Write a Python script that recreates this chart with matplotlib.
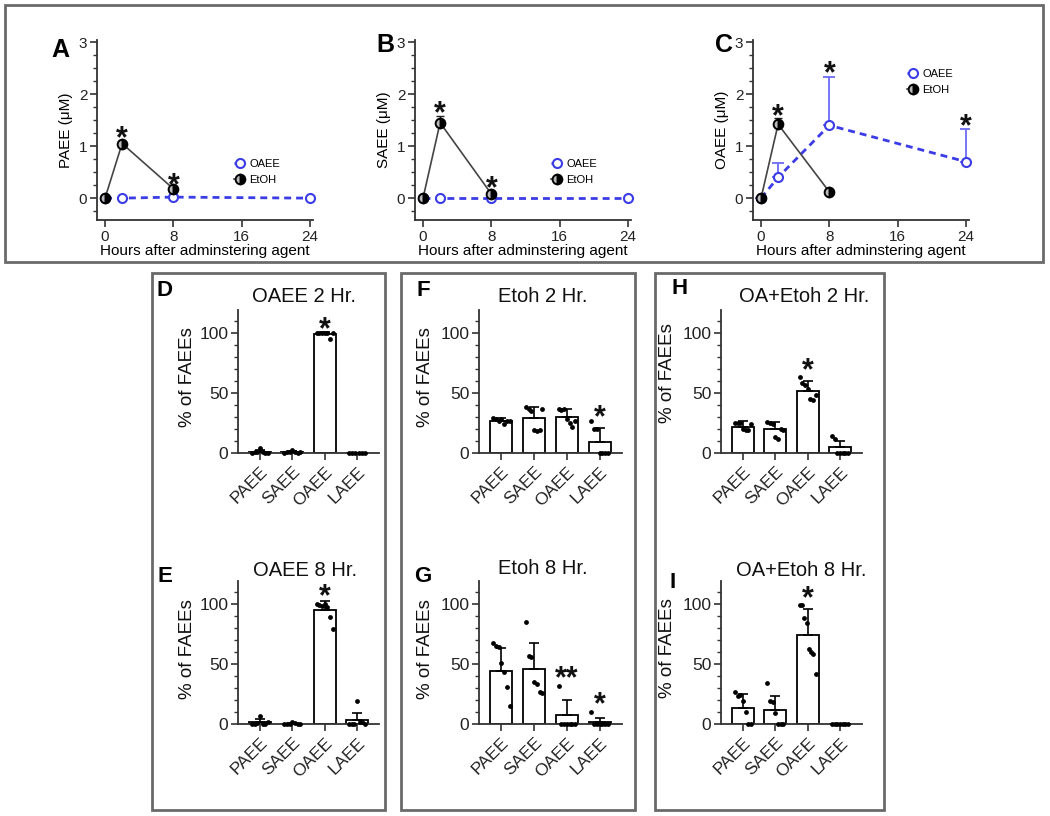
import numpy as np
import matplotlib
matplotlib.use("Agg")
import matplotlib.pyplot as plt
from matplotlib.patches import Rectangle
from matplotlib.ticker import MultipleLocator
from matplotlib.transforms import offset_copy

plt.rcParams['font.family'] = ['Liberation Sans', 'DejaVu Sans']

# ============================================================================
# Data
# ============================================================================

# time course panels A-C
oaee_hours = [0, 2, 8, 24]
etoh_hours = [0, 2, 8]

paee_oaee = [0, 0, 0.02, 0]
paee_etoh = [0, 1.05, 0.18]
paee_etoh_sd = [0, 0.05, 0.03]
paee_stars = [(2, 1.27), (8, 0.36)]

saee_oaee = [0, 0, 0, 0]
saee_etoh = [0, 1.45, 0.08]
saee_etoh_sd = [0, 0.13, 0.03]
saee_stars = [(2, 1.74), (8, 0.30)]

oaee_oaee = [0, 0.40, 1.40, 0.70]
oaee_oaee_sd = [0, 0.28, 0.92, 0.62]
oaee_etoh = [0, 1.42, 0.12]
oaee_etoh_sd = [0, 0.12, 0.06]
oaee_stars = [(2, 1.68), (8, 2.52), (24, 1.49)]

# % of FAEEs panels D-I
categories = ['PAEE', 'SAEE', 'OAEE', 'LAEE']

d_means = [1.0, 0.8, 99.3, 0.0]
d_sd = [1.5, 1.0, 1.3, 0.0]
d_points = [[0, 0.5, 1, 4, 0.5, 0, 0], [0, 0.5, 1, 2.5, 0.5, 0, 1],
            [100, 100, 100, 99.5, 100, 95, 99.8], [0, 0, 0, 0, 0, 0]]
d_stars = [(2, 108, '*')]

e_means = [1.5, 0.4, 94.5, 3.4]
e_sd = [2.8, 0.8, 7.7, 6.0]
e_points = [[0, 0, 1, 6.5, 0, 0, 2], [0, 0, 0, 2, 0.5, 0, 0],
            [100, 99, 98, 100, 97, 89, 79], [0, 0, 0, 19, 2, 2, 0]]
e_stars = [(2, 111, '*')]

f_means = [26.5, 29.0, 30.3, 9.0]
f_sd = [2.5, 9.5, 6.5, 12.0]
f_points = [[29, 28, 27, 28, 24, 27, 27], [38, 37, 35, 19, 18, 19, 37],
            [37, 36, 37, 28, 25, 22, 27], [27, 20, 20, 0, 0, 0, 0]]
f_stars = [(3, 35, '*')]

g_means = [44.0, 45.5, 7.5, 1.4]
g_sd = [19.0, 21.5, 12.5, 3.6]
g_points = [[67, 65, 64, 51, 43, 31, 15], [85, 57, 56, 35, 33, 27, 26],
            [32, 0, 0, 0, 0, 0, 0], [10, 0, 0, 0, 0, 0, 0]]
g_stars = [(2, 43, '**'), (3, 21.5, '*')]

h_means = [22.0, 20.0, 52.0, 4.7]
h_sd = [5.0, 6.0, 8.0, 5.0]
h_points = [[25, 25, 25, 20, 19, 19, 24], [26, 25, 24, 13, 12, 20, 19],
            [63, 58, 57, 53, 45, 44, 48], [14, 12, 0, 0, 0, 0, 0]]
h_stars = [(2, 74, '*')]

i_means = [13.7, 11.7, 73.7, 0.0]
i_sd = [11.0, 12.0, 22.0, 0.0]
i_points = [[27, 23, 24, 19, 10, 0, 0], [34, 19, 18, 9, 0, 0, 0],
            [99, 99, 88, 84, 62, 60, 58, 42], [0, 0, 0, 0, 0, 0, 0]]
i_stars = [(2, 110, '*')]

# ============================================================================
# Layout helpers (pixel coordinates, origin top-left)
# ============================================================================

W, H = 1050, 816
fig = plt.figure(figsize=(W / 100, H / 100), dpi=100)

BLUE = '#3c3ce6'
BLUE_ERR = '#6b6bf5'
AX_COLOR = '#333333'
STAR_FS = 22


def px_axes(left, top, right, bottom):
    return fig.add_axes([left / W, 1 - bottom / H, (right - left) / W, (bottom - top) / H])


def fig_text(x, y, s, **kw):
    fig.text(x / W, 1 - y / H, s, ha='center', va='center', **kw)


def box(left, top, right, bottom):
    fig.patches.append(Rectangle((left / W, 1 - bottom / H), (right - left) / W, (bottom - top) / H,
                                 transform=fig.transFigure, fill=False,
                                 edgecolor='#6a6a6a', linewidth=2.0))


def star(ax, x, y, s):
    # anchor the baseline so the glyph itself is centred on (x, y)
    tr = offset_copy(ax.transData, fig=fig, y=-0.49 * STAR_FS, units='points')
    ax.text(x, y, s, transform=tr, ha='center', va='baseline', fontsize=STAR_FS,
            fontweight='bold', color='#111111', clip_on=False, zorder=6)


def style_axes(ax, fs):
    for side in ['top', 'right']:
        ax.spines[side].set_visible(False)
    for side in ['left', 'bottom']:
        ax.spines[side].set_linewidth(1.3)
        ax.spines[side].set_color(AX_COLOR)
    ax.tick_params(which='major', length=5, width=1.2, color=AX_COLOR,
                   labelsize=fs, labelcolor='#222222', pad=2)
    ax.tick_params(which='minor', length=3, width=1.0, color=AX_COLOR)
    ax.set_facecolor('none')


# ============================================================================
# Time course panels
# ============================================================================

def time_panel(ax, oaee, etoh, etoh_sd, stars, ylabel, oaee_sd=None, legend_at=None):
    ax.plot(oaee_hours, oaee, color=BLUE, lw=2.0, ls=(0, (2.5, 1.8)), marker='o', ms=6.5,
            mfc='white', mec=BLUE, mew=1.5, zorder=3, clip_on=False, label='OAEE')
    if oaee_sd is not None:
        ax.errorbar(oaee_hours, oaee, yerr=[np.zeros(len(oaee)), oaee_sd], fmt='none',
                    ecolor=BLUE_ERR, elinewidth=1.3, capsize=4, capthick=1.3, zorder=2)
    ax.errorbar(etoh_hours, etoh, yerr=[np.zeros(len(etoh)), etoh_sd], fmt='none',
                ecolor='#222222', elinewidth=1.0, capsize=3, capthick=1.0, zorder=3)
    ax.plot(etoh_hours, etoh, color='#444444', lw=1.2, marker='o', ms=7, fillstyle='right',
            mfc='black', mfcalt='#bbbbbb', mec='black', mew=1.4, zorder=4, clip_on=False,
            label='EtOH')
    for x, y in stars:
        star(ax, x, y, '*')

    ax.set_xlim(-0.94, 24.35)
    ax.set_ylim(-0.42, 3.04)
    ax.set_xticks([0, 8, 16, 24])
    ax.set_yticks([0, 1, 2, 3])
    ax.yaxis.set_minor_locator(MultipleLocator(0.25))
    style_axes(ax, 11)
    ax.set_ylabel(ylabel, fontsize=11, labelpad=4)
    ax.set_xlabel('Hours after adminstering agent', fontsize=11, labelpad=0)

    lx, ly = legend_at
    ax.legend(loc='upper left', bbox_to_anchor=(lx / W, 1 - ly / H),
              bbox_transform=fig.transFigure, frameon=False, fontsize=8,
              handlelength=1.0, handletextpad=0.4, borderpad=0, borderaxespad=0,
              labelspacing=0.55)


box(5, 5, 1043, 262)

ax_a = px_axes(97, 40, 313, 220)
time_panel(ax_a, paee_oaee, paee_etoh, paee_etoh_sd, paee_stars, 'PAEE (\u03bcM)',
           legend_at=(234, 159))
ax_b = px_axes(415, 40, 631, 220)
time_panel(ax_b, saee_oaee, saee_etoh, saee_etoh_sd, saee_stars, 'SAEE (\u03bcM)',
           legend_at=(551, 159))
ax_c = px_axes(753, 40, 969, 220)
time_panel(ax_c, oaee_oaee, oaee_etoh, oaee_etoh_sd, oaee_stars, 'OAEE (\u03bcM)',
           oaee_sd=oaee_oaee_sd, legend_at=(907, 69))

fig_text(60, 50, 'A', fontsize=18, fontweight='bold')
fig_text(385, 45, 'B', fontsize=18, fontweight='bold')
fig_text(724, 45, 'C', fontsize=18, fontweight='bold')

# ============================================================================
# Bar panels
# ============================================================================

def bar_panel(ax, means, sds, points, stars, title, title_xy):
    x = np.arange(len(categories))
    ax.bar(x, means, width=0.68, color='white', edgecolor='black', linewidth=1.3, zorder=2)
    for i in x:
        if sds[i] > 0:
            ax.errorbar(i, means[i], yerr=[[0], [sds[i]]], fmt='none', ecolor='black',
                        elinewidth=1.2, capsize=3.5, capthick=1.2, zorder=3)
    for i, pts in enumerate(points):
        offs = np.linspace(-0.25, 0.25, len(pts))
        ax.scatter(i + offs, pts, s=12, color='black', zorder=4, clip_on=False, linewidths=0)
    for i, y, s in stars:
        star(ax, i, y, s)

    ax.set_xlim(-0.68, 3.68)
    ax.set_ylim(0, 119)
    ax.set_xticks(x)
    ax.set_xticklabels(categories, rotation=45, ha='right', rotation_mode='anchor')
    ax.set_yticks([0, 50, 100])
    ax.yaxis.set_minor_locator(MultipleLocator(10))
    style_axes(ax, 12.5)
    ax.tick_params(axis='x', labelsize=12.5, pad=3)
    fig_text(title_xy[0], title_xy[1], title, fontsize=14.5, color='#111111')


box(152, 273, 385, 810)
box(401, 273, 635, 810)
box(655, 273, 884, 810)

panels = [
    (238, 379, 310, 453, d_means, d_sd, d_points, d_stars, 'OAEE 2 Hr.', (304, 297)),
    (238, 379, 581, 724, e_means, e_sd, e_points, e_stars, 'OAEE 8 Hr.', (305, 570)),
    (479, 622, 310, 453, f_means, f_sd, f_points, f_stars, 'Etoh 2 Hr.', (543, 297)),
    (479, 622, 581, 724, g_means, g_sd, g_points, g_stars, 'Etoh 8 Hr.', (543, 569)),
    (721, 862, 310, 453, h_means, h_sd, h_points, h_stars, 'OA+Etoh 2 Hr.', (804, 297)),
    (721, 862, 581, 724, i_means, i_sd, i_points, i_stars, 'OA+Etoh 8 Hr.', (801, 570)),
]
for left, right, top, bottom, m, sd, pts, st, title, txy in panels:
    ax = px_axes(left, top, right, bottom)
    bar_panel(ax, m, sd, pts, st, title, txy)

# y labels and panel letters
for x, y in [(188, 377), (188, 649), (425, 377), (425, 649), (668, 373), (668, 648)]:
    fig_text(x, y, '% of FAEEs', fontsize=13.5, rotation=90, color='#111111')

for x, y, s in [(165, 290, 'D'), (165, 577, 'E'), (423, 290, 'F'), (423, 577, 'G'),
                (680, 288, 'H'), (673, 582, 'I')]:
    fig_text(x, y, s, fontsize=16, fontweight='bold')

fig.savefig('out.png', dpi=100)
